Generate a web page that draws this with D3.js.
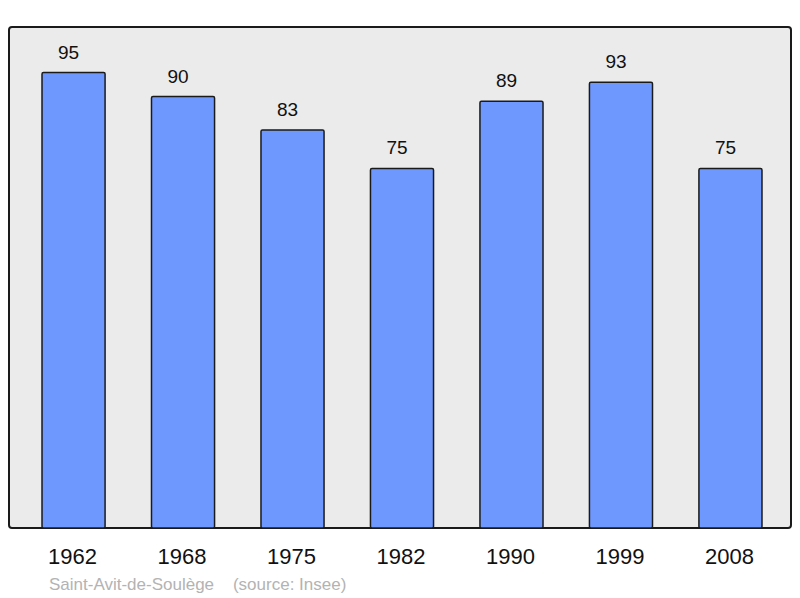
<!DOCTYPE html>
<meta charset="utf-8">
<head>
  <title>Population</title>
  <script src="https://d3js.org/d3.v7.min.js"></script>
  <style>
    body { margin: 0; background: #fff; }
    text { font-family: "Liberation Sans", Arial, sans-serif; }
  </style>
</head>
<body>
<svg></svg>
<script>
var years = ["1962", "1968", "1975", "1982", "1990", "1999", "2008"];
var population = [95, 90, 83, 75, 89, 93, 75];
var caption = "Saint-Avit-de-Soulège    (source: Insee)";

var width = 800, height = 598;
var panel = {left: 9, top: 27, right: 791, bottom: 528};

var svg = d3.select("svg")
    .attr("width", width)
    .attr("height", height);

var x = d3.scaleBand()
    .domain(years)
    .range([18.8, 785.2])
    .paddingInner(0.424)
    .paddingOuter(0.212);

var y = d3.scaleLinear()
    .domain([0, d3.max(population) * 1.1])
    .range([panel.bottom, panel.top]);

var data = years.map(function(d, i) { return {year: d, value: population[i]}; });

// background panel
svg.append("rect")
    .attr("x", panel.left)
    .attr("y", panel.top)
    .attr("width", panel.right - panel.left)
    .attr("height", panel.bottom - panel.top)
    .attr("rx", 3)
    .style("fill", "#ebebeb")
    .style("stroke", "#1a1a1a")
    .style("stroke-width", 2);

svg.selectAll(".bar")
    .data(data)
    .enter().append("rect")
    .attr("class", "bar")
    .attr("x", function(d) { return x(d.year); })
    .attr("y", function(d) { return y(d.value); })
    .attr("width", x.bandwidth())
    .attr("height", function(d) { return y(0) - y(d.value); })
    .attr("rx", 1.5)
    .style("fill", "#6f98ff")
    .style("stroke", "#1a1a1a")
    .style("stroke-width", 1.5);

// value labels sit a little left of the bar centre
svg.selectAll(".value")
    .data(data)
    .enter().append("text")
    .attr("class", "value")
    .attr("x", function(d) { return x(d.year) + x.bandwidth() / 2 - 5; })
    .attr("y", function(d) { return y(d.value) - 14; })
    .style("text-anchor", "middle")
    .style("font-size", "19px")
    .style("fill", "#111")
    .text(function(d) { return d.value; });

// year axis, no lines
var xAxis = d3.axisBottom(x).tickSize(0).tickPadding(0);
var gx = svg.append("g")
    .attr("transform", "translate(-1," + 564 + ")")
    .call(xAxis);
gx.select(".domain").remove();
gx.selectAll("text")
    .attr("dy", 0)
    .style("font-size", "22px")
    .style("font-family", "'Liberation Sans', Arial, sans-serif")
    .style("fill", "#111");

svg.append("text")
    .attr("x", 49)
    .attr("y", 590)
    .style("font-size", "17px")
    .style("fill", "#b3b3b3")
    .attr("xml:space", "preserve")
    .text(caption);
</script>
</body>
